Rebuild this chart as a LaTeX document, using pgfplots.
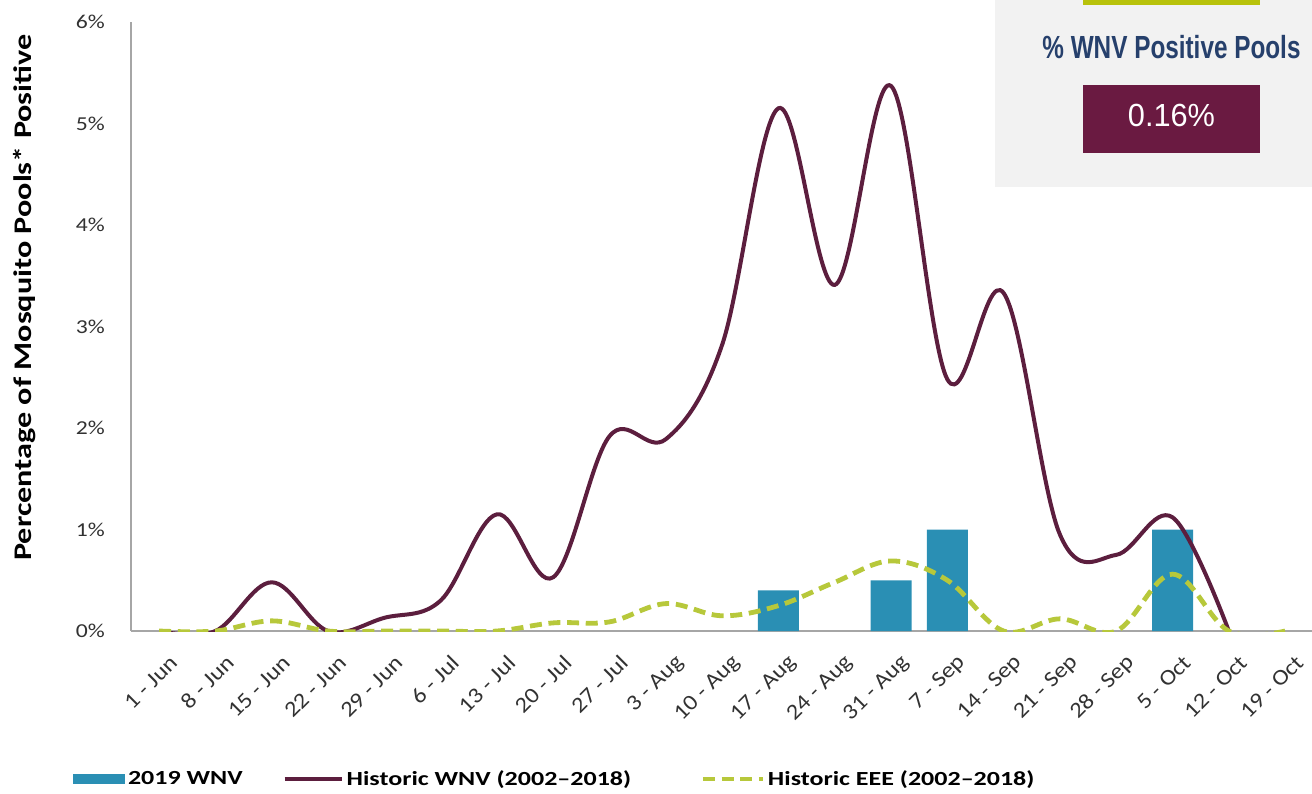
\documentclass[border=0pt]{standalone}
\usepackage{fontspec}
\setmainfont{Carlito}
\usepackage{pgfplots}
\pgfplotsset{compat=1.18}
\newfontfamily\tickfont{Carlito}[FakeStretch=1.2]
\newfontfamily\xtickfont{Carlito}[FakeStretch=1.12]
\newfontfamily\labfont{Carlito}[FakeStretch=1.27]
\newfontfamily\legfont{Carlito}[FakeStretch=1.3]
\newfontfamily\titlefont{Liberation Sans}[FakeStretch=0.76]
\newfontfamily\valfont{Liberation Sans}[FakeStretch=0.96]
\definecolor{barblue}{RGB}{42,143,180}
\definecolor{wnvline}{RGB}{92,30,62}
\definecolor{eeeline}{RGB}{183,200,59}
\definecolor{boxmaroon}{RGB}{106,26,65}
\definecolor{navy}{RGB}{38,64,108}
\definecolor{ygreen}{RGB}{184,194,11}
\definecolor{boxgray}{RGB}{242,242,242}
\definecolor{axisgray}{RGB}{166,166,166}
\definecolor{ticktext}{RGB}{50,50,50}

\pgfplotstableread{
x y
11 0.40
13 0.50
14 1.00
18 1.00
}\barsdata

\pgfplotstableread{
x y
0 0
1 0
2 0.48
3 0
4 0.13
5 0.30
6 1.15
7 0.53
8 1.92
9 1.89
10 2.82
11 5.15
12 3.41
13 5.37
14 2.48
15 3.33
16 0.95
17 0.75
18 1.12
19 0
}\wnvdata

\pgfplotstableread{
x y
0 0
1 0
2 0.10
3 0
4 0
5 0
6 0
7 0.08
8 0.09
9 0.27
10 0.15
11 0.25
12 0.48
13 0.69
14 0.50
15 0
16 0.12
17 0
18 0.56
19 0
20 0
}\eeedata

\begin{document}
\begin{tikzpicture}
\useasboundingbox (0,0) rectangle (984pt,-594.75pt);
\begin{axis}[
  at={(98.25pt,-473.25pt)}, anchor=south west,
  width=886.7pt, height=456.75pt, scale only axis,
  xmin=-0.5, xmax=20.5, ymin=0, ymax=6,
  axis x line*=bottom, axis y line*=left,
  axis line style={-, draw=axisgray, line width=0.8pt},
  major tick length=0pt,
  xtick={0,...,20},
  xticklabels={1 - Jun, 8 - Jun, 15 - Jun, 22 - Jun, 29 - Jun, 6 - Jul, 13 - Jul, 20 - Jul, 27 - Jul, 3 - Aug, 10 - Aug, 17 - Aug, 24 - Aug, 31 - Aug, 7 - Sep, 14 - Sep, 21 - Sep, 28 - Sep, 5 - Oct, 12 - Oct, 19 - Oct},
  ytick={0,...,6},
  yticklabels={0\%,1\%,2\%,3\%,4\%,5\%,6\%},
  xticklabel style={xshift=11pt, yshift=-21pt, rotate=45, anchor=east, inner sep=0pt, font=\xtickfont\fontsize{16.5}{18}\selectfont, text=ticktext},
  yticklabel style={xshift=-19.5pt, anchor=east, inner sep=0pt, font=\tickfont\fontsize{14.8}{16}\selectfont, text=ticktext},
  ylabel={Percentage of Mosquito Pools* Positive},
  ylabel style={at={(axis description cs:-0.0897,0.5476)}, anchor=center, rotate=0, font=\labfont\bfseries\fontsize{19}{22}\selectfont, inner sep=0pt},
  legend columns=3,
  legend style={draw=none, fill=none, at={(axis description cs:-0.049,-0.243)}, anchor=west, inner xsep=0pt, inner ysep=0pt,
    font=\legfont\bfseries\fontsize{15}{18}\selectfont,
    /tikz/column 2/.style={column sep=28pt},
    /tikz/column 4/.style={column sep=50pt}},
  clip=true,
]
\addplot[ybar, bar width=30.75pt, fill=barblue, draw=none,
  legend image code/.code={\fill[barblue] (0pt,-3.4pt) rectangle (39pt,3.4pt);}]
  table[x=x,y=y] {\barsdata};
\addlegendentry{2019 WNV}
\addplot[wnvline, line width=3pt, smooth, tension=0.6,
  legend image code/.code={\draw[wnvline, line width=3pt] (0pt,0pt) -- (43pt,0pt);}]
  table[x=x,y=y] {\wnvdata};
\addlegendentry{Historic WNV (2002–2018)}
\addplot[eeeline, line width=3.6pt, smooth, tension=0.6, dash pattern=on 9pt off 5pt,
  legend image code/.code={\draw[eeeline, line width=3.6pt, dash pattern=on 9pt off 5pt] (0pt,0pt) -- (45pt,0pt);}]
  table[x=x,y=y] {\eeedata};
\addlegendentry{Historic EEE (2002–2018)}
\end{axis}
% info box at top right
\fill[boxgray] (746.25pt,0pt) rectangle (984pt,-140pt);
\fill[ygreen] (812.25pt,0pt) rectangle (945pt,-3.75pt);
\node[anchor=base, text=navy, font=\titlefont\bfseries\fontsize{24}{28}\selectfont, inner sep=0pt] at (878.6pt,-43.5pt) {\% WNV Positive Pools};
\fill[boxmaroon] (812.25pt,-63.75pt) rectangle (945pt,-114.5pt);
\node[anchor=center, text=white, font=\valfont\fontsize{24}{28}\selectfont, inner sep=0pt] at (878.6pt,-86.25pt) {0.16\%};
\end{tikzpicture}
\end{document}
